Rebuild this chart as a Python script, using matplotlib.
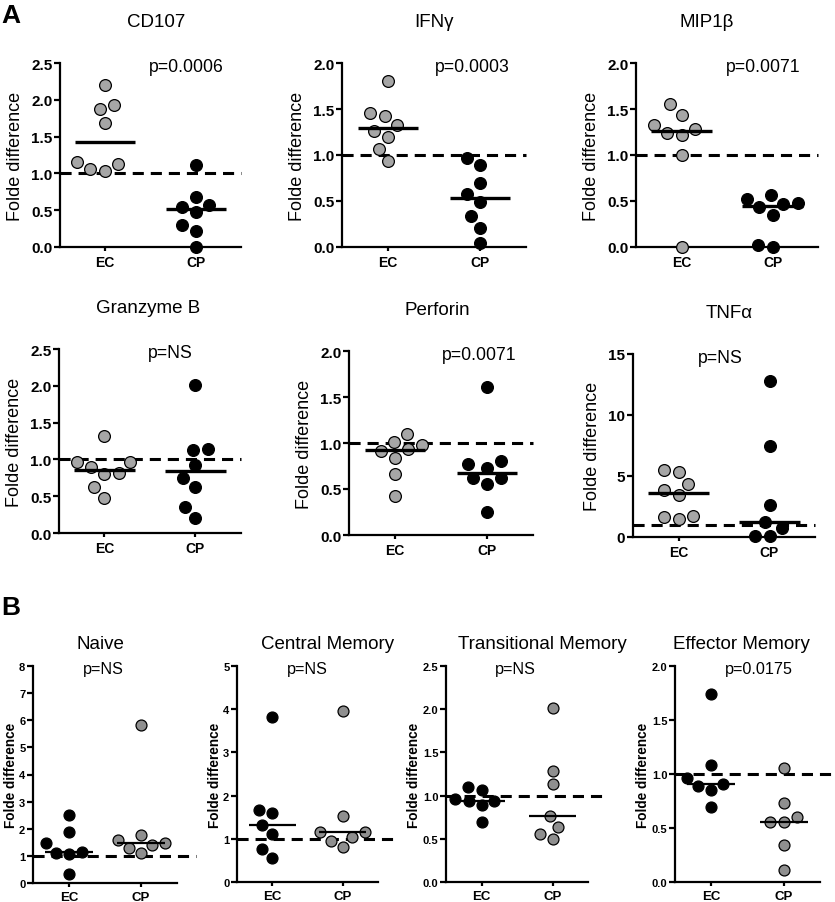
import numpy as np
import matplotlib
matplotlib.use("Agg")
import matplotlib.pyplot as plt

plt.rcParams['font.family'] = ['Liberation Sans', 'DejaVu Sans']
plt.rcParams['lines.scale_dashes'] = False

groups = ["EC", "CP"]

# ---- panel A: cytokine functions (EC grey, CP black) ----
a_titles = ["CD107", "IFNγ", "MIP1β", "Granzyme B", "Perforin", "TNFα"]
a_pvals = ["p=0.0006", "p=0.0003", "p=0.0071", "p=NS", "p=0.0071", "p=NS"]
a_ymax = [2.5, 2.0, 2.0, 2.5, 2.0, 15]
a_ystep = [0.5, 0.5, 0.5, 0.5, 0.5, 5]

cd107_ec = [2.20, 1.93, 1.87, 1.68, 1.16, 1.13, 1.06, 1.03]
cd107_cp = [1.11, 0.68, 0.57, 0.55, 0.47, 0.30, 0.22, 0.00]
ifng_ec = [1.80, 1.46, 1.42, 1.33, 1.26, 1.20, 1.06, 0.93]
ifng_cp = [0.97, 0.89, 0.70, 0.58, 0.49, 0.34, 0.21, 0.04]
mip1b_ec = [1.55, 1.44, 1.33, 1.28, 1.24, 1.22, 1.00, 0.00]
mip1b_cp = [0.57, 0.52, 0.48, 0.47, 0.43, 0.35, 0.02, 0.00]
gzmb_ec = [1.32, 0.97, 0.96, 0.89, 0.81, 0.80, 0.62, 0.48]
gzmb_cp = [2.01, 1.14, 1.13, 0.93, 0.75, 0.63, 0.35, 0.20]
perf_ec = [1.10, 1.01, 0.98, 0.93, 0.91, 0.84, 0.66, 0.42]
perf_cp = [1.61, 0.80, 0.77, 0.73, 0.62, 0.62, 0.55, 0.25]
tnfa_ec = [5.51, 5.32, 4.36, 3.82, 3.41, 1.69, 1.64, 1.45]
tnfa_cp = [12.82, 7.45, 2.59, 1.23, 0.74, 0.05, 0.05]

# ---- panel B: memory subsets (EC black, CP grey) ----
b_titles = ["Naive", "Central Memory", "Transitional Memory", "Effector Memory"]
b_pvals = ["p=NS", "p=NS", "p=NS", "p=0.0175"]
b_ymax = [8, 5, 2.5, 2.0]
b_ystep = [1, 1, 0.5, 0.5]

naive_ec = [2.50, 1.88, 1.47, 1.15, 1.10, 1.08, 0.32]
naive_cp = [5.83, 1.76, 1.59, 1.49, 1.39, 1.30, 1.10]
cm_ec = [3.82, 1.67, 1.59, 1.32, 1.11, 0.76, 0.55]
cm_cp = [3.96, 1.52, 1.15, 1.15, 1.04, 0.95, 0.81]
tm_ec = [1.10, 1.07, 0.96, 0.94, 0.94, 0.89, 0.69]
tm_cp = [2.01, 1.29, 1.13, 0.76, 0.64, 0.55, 0.50]
em_ec = [1.74, 1.08, 0.96, 0.91, 0.89, 0.85, 0.69]
em_cp = [1.06, 0.73, 0.60, 0.56, 0.56, 0.34, 0.11]

a_data = [(cd107_ec, cd107_cp), (ifng_ec, ifng_cp), (mip1b_ec, mip1b_cp),
          (gzmb_ec, gzmb_cp), (perf_ec, perf_cp), (tnfa_ec, tnfa_cp)]
b_data = [(naive_ec, naive_cp), (cm_ec, cm_cp), (tm_ec, tm_cp), (em_ec, em_cp)]

W, H = 835, 903
GREY_A = "#a6a6a6"
GREY_B = "#8f8f8f"

# axes boxes in pixels: left, right, top, bottom
a_boxes = [(60, 241, 64, 248), (342, 526, 64, 248), (636, 818, 64, 248),
           (59, 241, 350, 534), (349, 533, 352, 536), (633, 815, 355, 538)]
a_title_x = [0.53, 0.50, 0.39, 0.49, 0.48, 0.53]
a_p_x = [0.70, 0.71, 0.70, 0.61, 0.71, 0.48]
b_boxes = [(33, 177, 667, 884), (237, 378, 667, 883),
           (446, 588, 667, 883), (675, 820, 667, 883)]
b_title_x = [0.47, 0.64, 0.68, 0.46]
b_p_x = [0.49, 0.50, 0.49, 0.58]


def swarm(ypx, d):
    # simple beeswarm: nudge points sideways until they don't overlap
    order = np.argsort(ypx)
    xs = np.zeros(len(ypx))
    placed = []
    for i in order:
        y = ypx[i]
        cands = [0.0]
        for px, py in placed:
            dy = abs(y - py)
            if dy < d:
                dx = np.sqrt(d * d - dy * dy)
                cands += [px - dx, px + dx]
        cands.sort(key=abs)
        for c in cands:
            if all((c - px) ** 2 + (y - py) ** 2 >= d * d - 1e-6 for px, py in placed):
                xs[i] = c
                break
        placed.append((xs[i], y))
    return xs


fig = plt.figure(figsize=(W / 100, H / 100), dpi=100)


def panel(box, title, tx, ptext, px, vals, colors, ymax, ystep, big):
    l, r, t, b = box
    ax = fig.add_axes([l / W, 1 - b / H, (r - l) / W, (b - t) / H])
    ax.set_xlim(-0.5, 1.5)
    ax.set_ylim(0, ymax)
    wpx, hpx = r - l, b - t
    msize = 72 if big else 62
    sep = 15 if big else 13.5
    for k, (v, c) in enumerate(zip(vals, colors)):
        v = np.array(v, dtype=float)
        off = swarm(v * hpx / ymax, sep) / (wpx / 2.0)
        ax.scatter(k + off, v, s=msize, c=c, edgecolors="black",
                   linewidths=0.9, zorder=4, clip_on=False)
        ax.plot([k - 0.33, k + 0.33], [np.median(v)] * 2, color="black",
                lw=2.4 if big else 1.6, zorder=5, solid_capstyle="butt")
    ax.axhline(1.0, xmin=0, xmax=1.0 if big else 1.13, color="black",
               lw=2.2, dashes=(8, 5), zorder=3, clip_on=False)

    ticks = np.arange(0, ymax + ystep / 2, ystep)
    ax.set_yticks(ticks)
    if ystep < 1:
        ax.set_yticklabels([f"{t_:.1f}" for t_ in ticks])
    else:
        ax.set_yticklabels([f"{int(t_)}" for t_ in ticks])
    ax.set_xticks([0, 1])
    ax.set_xticklabels(groups)
    for s in ["top", "right"]:
        ax.spines[s].set_visible(False)
    for s in ["left", "bottom"]:
        ax.spines[s].set_linewidth(1.6)
    ax.tick_params(axis="y", length=4, width=1.6, pad=1.5,
                   labelsize=11 if big else 8)
    ax.tick_params(axis="x", length=3, width=1.6, pad=3,
                   labelsize=10 if big else 9.5)
    for lab in ax.get_yticklabels() + ax.get_xticklabels():
        lab.set_fontweight("bold")

    if big:
        ax.set_ylabel("Folde difference", fontsize=13, labelpad=5)
    else:
        ax.set_ylabel("Folde difference", fontsize=9.8, fontweight="bold", labelpad=1)

    ax.text(tx, 1 + (0.2 if big else 0.085), title, transform=ax.transAxes,
            ha="center", va="baseline", fontsize=13.5)
    ax.text(px, 0.98 if big else 0.99, ptext, transform=ax.transAxes,
            ha="center", va="center", fontsize=12.7 if big else 11.6)
    return ax


for i in range(6):
    panel(a_boxes[i], a_titles[i], a_title_x[i], a_pvals[i], a_p_x[i],
          a_data[i], [GREY_A, "black"], a_ymax[i], a_ystep[i], True)

for i in range(4):
    panel(b_boxes[i], b_titles[i], b_title_x[i], b_pvals[i], b_p_x[i],
          b_data[i], ["black", GREY_B], b_ymax[i], b_ystep[i], False)

fig.text(1 / W, 1 - 23 / H, "A", fontsize=19, fontweight="bold", ha="left", va="baseline")
fig.text(1 / W, 1 - 615 / H, "B", fontsize=19, fontweight="bold", ha="left", va="baseline")

fig.savefig("out.png", dpi=100)
